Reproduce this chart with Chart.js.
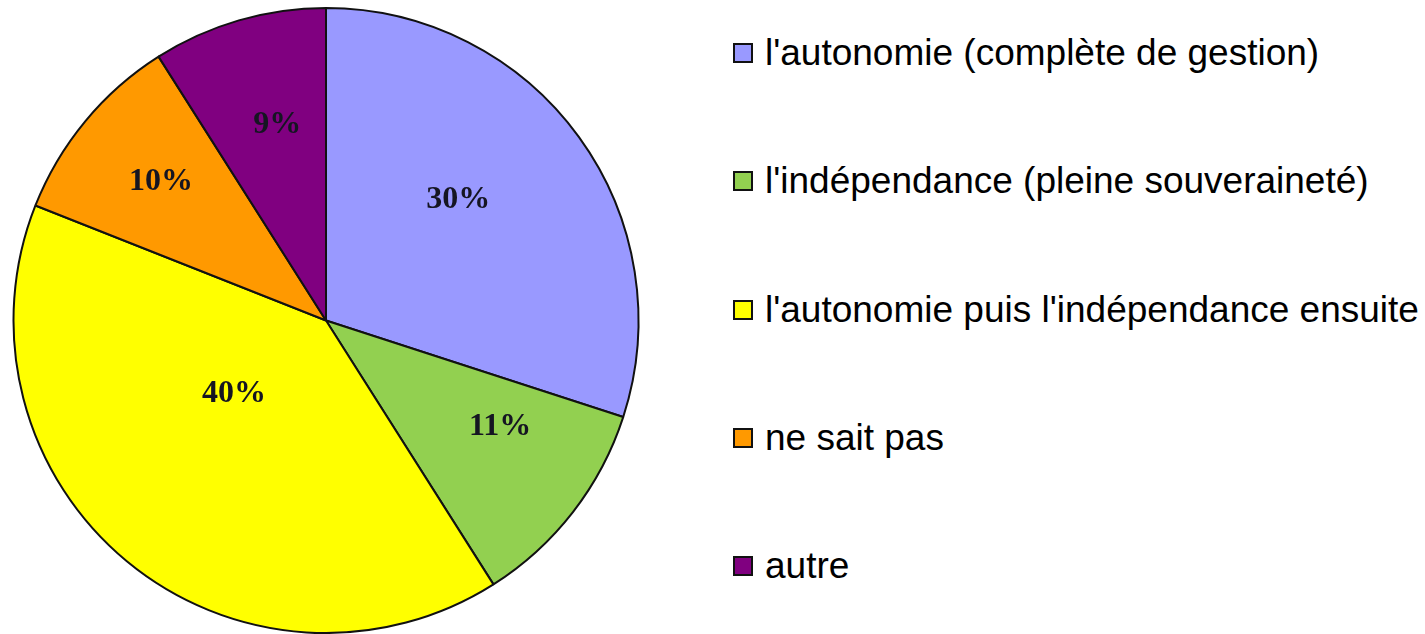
<!DOCTYPE html>
<html lang="fr">
<head>
<meta charset="utf-8">
<title>Autonomie / indépendance</title>
<script src="https://cdn.jsdelivr.net/npm/chart.js@4.4.1/dist/chart.umd.min.js"></script>
<style>
  html, body { margin: 0; padding: 0; background: #fff; }
  body { width: 1425px; height: 634px; position: relative; overflow: hidden; }
  #pie-wrap { position: absolute; left: 0; top: 0; width: 652px; height: 634px; }
  #legend {
    position: absolute; left: 733px; top: -11px; margin: 0; padding: 0; list-style: none;
    font-family: "Liberation Sans", Arial, sans-serif; font-size: 37px; color: #000;
  }
  #legend li { height: 128.3px; display: flex; align-items: center; white-space: nowrap; }
  #legend .box {
    width: 20px; height: 20px; box-sizing: border-box; border: 2px solid #111;
    margin-right: 12px; flex: none;
  }
</style>
</head>
<body>
<div id="pie-wrap"><canvas id="pie"></canvas></div>
<ul id="legend"></ul>
<script>
'use strict';

// answer categories, in drawing order (clockwise from 12 o'clock)
const categories = [
  "l'autonomie (complète de gestion)",
  "l'indépendance (pleine souveraineté)",
  "l'autonomie puis l'indépendance ensuite",
  'ne sait pas',
  'autre',
];
const shares = [30, 11, 40, 10, 9];
const sliceColors = ['#9999FF', '#92D050', '#FFFF00', '#FF9900', '#800080'];

// where each % label sits: fraction of the radius, and shift (deg) off the slice middle
const labelRadius = [0.574, 0.653, 0.376, 0.69, 0.645];
const labelShift = [-6.5, -6.4, 12, 0.5, 2.2];

const pctLabels = {
  id: 'pctLabels',
  afterDatasetsDraw(chart) {
    const ctx = chart.ctx;
    const meta = chart.getDatasetMeta(0);
    ctx.save();
    ctx.font = 'bold 32px "Liberation Serif", "Times New Roman", serif';
    ctx.fillStyle = '#151522';
    ctx.textAlign = 'center';
    ctx.textBaseline = 'middle';
    meta.data.forEach((arc, i) => {
      const p = arc.getProps(['x', 'y', 'startAngle', 'endAngle', 'outerRadius'], true);
      const mid = (p.startAngle + p.endAngle) / 2 + labelShift[i] * Math.PI / 180;
      const r = p.outerRadius * labelRadius[i];
      ctx.fillText(shares[i] + '%', p.x + Math.cos(mid) * r, p.y + Math.sin(mid) * r);
    });
    ctx.restore();
  },
};

new Chart(document.getElementById('pie'), {
  type: 'pie',
  data: {
    labels: categories,
    datasets: [{
      data: shares,
      backgroundColor: sliceColors,
      borderColor: '#111',
      borderWidth: 2,
    }],
  },
  options: {
    responsive: true,
    maintainAspectRatio: false,
    animation: false,
    layout: { padding: { top: 7, bottom: 0, left: 0, right: 0 } },
    plugins: {
      legend: { display: false },
      tooltip: { enabled: false },
    },
  },
  plugins: [pctLabels],
});

// legend, built from the same arrays
document.getElementById('legend').innerHTML = categories.map((c, i) =>
  `<li><span class="box" style="background:${sliceColors[i]}"></span><span>${c}</span></li>`
).join('');
</script>
</body>
</html>
